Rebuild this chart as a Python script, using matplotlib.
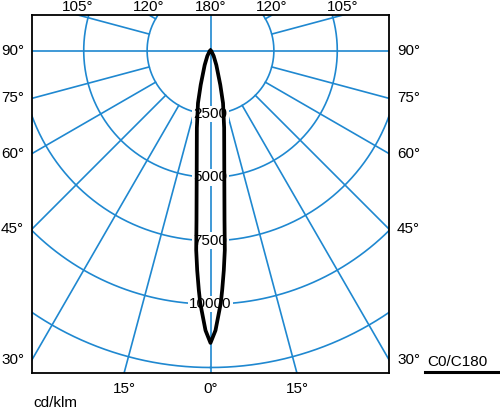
import numpy as np
import matplotlib
matplotlib.use("Agg")
import matplotlib.pyplot as plt
from matplotlib.lines import Line2D

plt.rcParams['font.family'] = ['Liberation Sans', 'DejaVu Sans']

# ---- data ----
gamma_deg = [0, 1.02, 1.66, 2.34, 2.8, 3.46, 4.1, 4.72, 6.33, 10.0, 13.4, 15.9, 21.8, 30, 45, 60, 90]
intensity = [11530, 11040, 10490, 9960, 9450, 8690, 7890, 6710, 4940, 3100, 2130, 1410, 620, 250, 60, 0, 0]
ring_values = [2500, 5000, 7500, 10000, 12500, 15000]
ring_labels = ["2500", "5000", "7500", "10000"]
left_angles = [90, 75, 60, 45, 30]
top_angles = [105, 120, 180]
bottom_angles = [15, 0]
unit_label = "cd/klm"
plane_label = "C0/C180"

BLUE = "#1f88d0"
FS = 11
W, H = 500, 409
fig = plt.figure(figsize=(W / 100, H / 100), dpi=100)
ax = fig.add_axes([32 / W, (H - 373) / H, 357 / W, 358 / H])
XMIN, XMAX, YMIN, YMAX = -7040, 7040, -12717, 1400
ax.set_xlim(XMIN, XMAX)
ax.set_ylim(YMIN, YMAX)
ax.set_xticks([])
ax.set_yticks([])
for s in ax.spines.values():
    s.set_linewidth(1.3)
    s.set_color("black")

# rings
th = np.linspace(0, 2 * np.pi, 721)
for r in ring_values:
    ax.plot(r * np.sin(th), -r * np.cos(th), color=BLUE, lw=1.2, zorder=1)

# radial lines
for a in range(0, 360, 15):
    ar = np.radians(a)
    r0 = 0 if a % 90 == 0 else ring_values[0]
    r1 = 30000
    ax.plot([r0 * np.sin(ar), r1 * np.sin(ar)], [-r0 * np.cos(ar), -r1 * np.cos(ar)],
            color=BLUE, lw=1.2, zorder=1)

# ring labels
for lab in ring_labels:
    v = float(lab)
    ax.text(0, -v, lab, ha="center", va="center", fontsize=FS, zorder=3,
            bbox=dict(facecolor="white", edgecolor="none", pad=1.0))

# curve (symmetric C0/C180)
g = np.radians(np.array(gamma_deg))
I = np.array(intensity)
gg = np.concatenate([-g[::-1], g[1:]])
II = np.concatenate([I[::-1], I[1:]])
ax.plot(II * np.sin(gg), -II * np.cos(gg), color="black", lw=2.7, zorder=4,
        solid_joinstyle="round")

# edge angle labels
for a in left_angles:
    ar = np.radians(a)
    sx, sy = -np.sin(ar), -np.cos(ar)
    y = XMIN / sx * sy
    ax.annotate(f"{a}°", (XMIN, y), xytext=(-8, 0), textcoords="offset pixels",
                ha="right", va="center", fontsize=FS, annotation_clip=False)
    ax.annotate(f"{a}°", (XMAX, y), xytext=(8, 0), textcoords="offset pixels",
                ha="left", va="center", fontsize=FS, annotation_clip=False)
for a in top_angles:
    ar = np.radians(a)
    sx, sy = -np.sin(ar), -np.cos(ar)
    x = round(YMAX / sy * sx, 3)
    for xx in sorted({abs(x), -abs(x)}):
        ax.annotate(f"{a}°", (xx, YMAX), xytext=(0, 4), textcoords="offset pixels",
                    ha="center", va="baseline", fontsize=FS, annotation_clip=False)
for a in bottom_angles:
    ar = np.radians(a)
    sx, sy = -np.sin(ar), -np.cos(ar)
    x = round(YMIN / sy * sx, 3)
    for xx in sorted({abs(x), -abs(x)}):
        ax.annotate(f"{a}°", (xx, YMIN), xytext=(0, -20), textcoords="offset pixels",
                    ha="center", va="baseline", fontsize=FS, annotation_clip=False)

fig.text(33 / W, 1 - 403 / H, unit_label, ha="left", va="center", fontsize=FS)
fig.text(427 / W, 1 - 362 / H, plane_label, ha="left", va="center", fontsize=FS)
fig.add_artist(Line2D([425 / W, 1.0], [1 - 372 / H, 1 - 372 / H], color="black",
                      lw=2.2, transform=fig.transFigure))

fig.savefig("out.png", dpi=100, facecolor="white")
